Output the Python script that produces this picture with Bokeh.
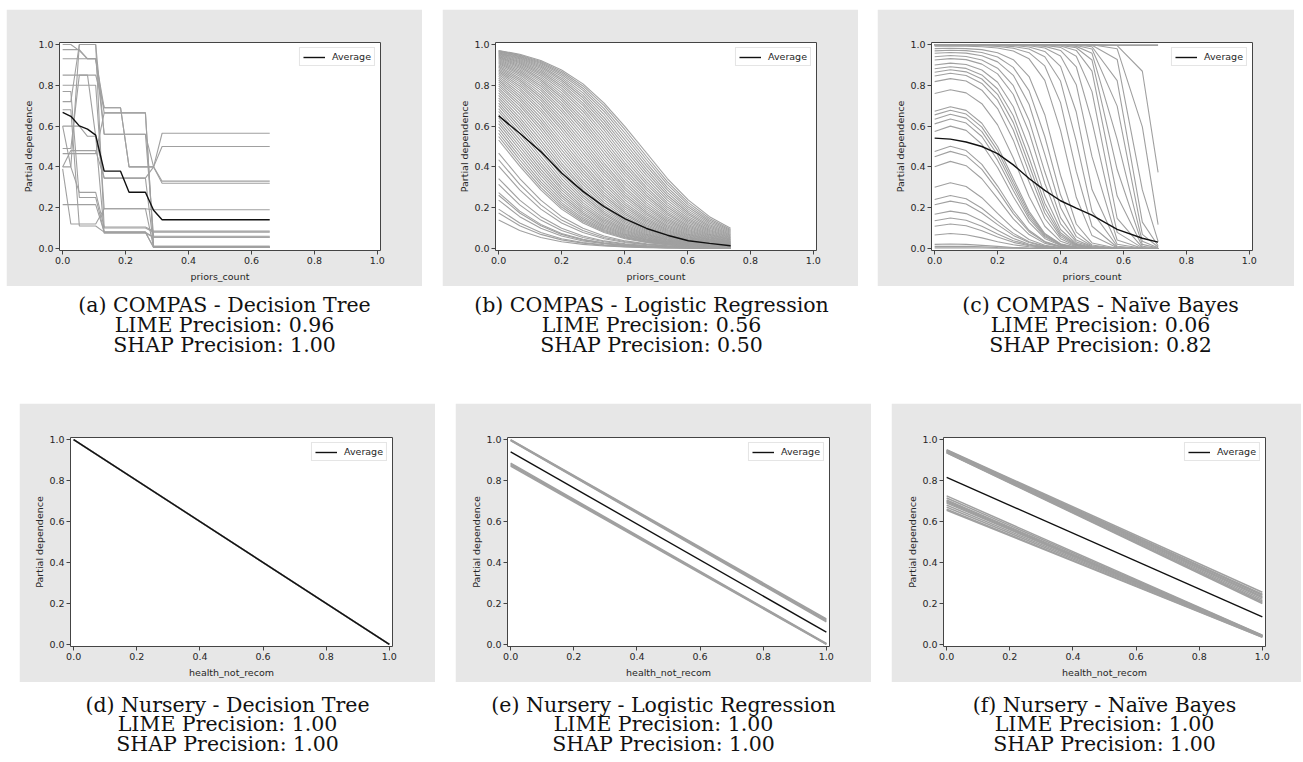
from bokeh.plotting import figure
from bokeh.models import Range1d, FixedTicker, PrintfTickFormatter, ColumnDataSource, Spacer
from bokeh.layouts import row, column
from bokeh.core.properties import value
from bokeh.embed import file_html
from bokeh.resources import INLINE

# ---------------- data ----------------
ticks = [0.0, 0.2, 0.4, 0.6, 0.8, 1.0]

# (a) COMPAS - Decision Tree
xa = [0, 0.026, 0.053, 0.079, 0.105, 0.132, 0.158, 0.184, 0.211, 0.237, 0.263, 0.289, 0.316, 0.658]
a_lines = [
    [1.0, 1.0, 0.97, 0.93, 0.93, 0.69, 0.69, 0.69, 0.40, 0.40, 0.40, 0.40, 0.565, 0.565],
    [0.975, 0.975, 0.975, 0.93, 0.93, 0.665, 0.665, 0.665, 0.665, 0.665, 0.665, 0.005, 0.005, 0.005],
    [0.93, 0.93, 0.93, 0.93, 0.93, 0.56, 0.56, 0.56, 0.56, 0.56, 0.56, 0.40, 0.50, 0.50],
    [0.85, 0.85, 0.85, 0.85, 0.55, 0.345, 0.345, 0.345, 0.345, 0.345, 0.345, 0.40, 0.33, 0.33],
    [0.80, 0.80, 0.80, 0.80, 0.80, 0.195, 0.195, 0.195, 0.195, 0.195, 0.195, 0.19, 0.19, 0.19],
    [0.72, 0.72, 1.0, 1.0, 1.0, 0.10, 0.10, 0.10, 0.10, 0.10, 0.10, 0.08, 0.08, 0.08],
    [0.60, 0.60, 0.60, 0.55, 0.55, 0.075, 0.075, 0.075, 0.075, 0.075, 0.075, 0.055, 0.055, 0.055],
    [0.49, 0.49, 0.85, 0.85, 0.85, 0.69, 0.69, 0.69, 0.40, 0.40, 0.40, 0.40, 0.32, 0.32],
    [0.465, 0.465, 0.465, 0.465, 0.465, 0.665, 0.665, 0.665, 0.665, 0.665, 0.665, 0.01, 0.01, 0.01],
    [0.40, 0.40, 1.0, 1.0, 1.0, 0.56, 0.56, 0.56, 0.56, 0.56, 0.56, 0.06, 0.06, 0.06],
    [0.40, 0.48, 0.48, 0.48, 0.48, 0.345, 0.345, 0.345, 0.345, 0.345, 0.345, 0.01, 0.01, 0.01],
    [0.60, 0.40, 0.275, 0.275, 0.275, 0.105, 0.105, 0.105, 0.105, 0.105, 0.105, 0.085, 0.085, 0.085],
    [0.215, 0.215, 0.215, 0.215, 0.215, 0.08, 0.08, 0.08, 0.08, 0.08, 0.08, 0.005, 0.005, 0.005],
    [0.39, 0.12, 0.12, 0.12, 0.12, 0.195, 0.195, 0.195, 0.195, 0.195, 0.195, 0.005, 0.005, 0.005],
    [0.77, 0.77, 0.25, 0.25, 0.25, 0.08, 0.08, 0.08, 0.08, 0.08, 0.08, 0.055, 0.055, 0.055],
    [0.68, 0.68, 0.11, 0.11, 0.11, 0.08, 0.08, 0.08, 0.08, 0.08, 0.08, 0.005, 0.005, 0.005],
]
a_avg = [0.667, 0.648, 0.601, 0.585, 0.556, 0.379, 0.379, 0.379, 0.276, 0.276, 0.276, 0.187, 0.141, 0.141]

# (b) COMPAS - Logistic Regression
xb = [0, 0.067, 0.134, 0.2, 0.268, 0.335, 0.402, 0.47, 0.536, 0.603, 0.67, 0.737]
b_lines = [
    [.971, .952, .922, .875, .807, .713, .596, .468, .343, .237, .156, .099],
    [.969, .949, .917, .868, .797, .700, .581, .451, .328, .225, .147, .093],
    [.967, .946, .912, .861, .786, .686, .565, .435, .314, .214, .139, .088],
    [.965, .942, .907, .853, .775, .672, .549, .419, .300, .203, .132, .083],
    [.963, .939, .901, .844, .763, .657, .532, .404, .287, .193, .125, .078],
    [.960, .935, .895, .835, .751, .642, .516, .388, .274, .183, .118, .073],
    [.958, .931, .889, .826, .739, .627, .500, .373, .261, .174, .111, .069],
    [.955, .927, .882, .817, .726, .612, .484, .358, .249, .165, .105, .065],
    [.952, .922, .875, .807, .713, .596, .468, .343, .237, .156, .099, .061],
    [.949, .917, .868, .797, .700, .581, .451, .328, .225, .147, .093, .057],
    [.946, .912, .861, .786, .686, .565, .435, .314, .214, .139, .088, .054],
    [.942, .907, .853, .775, .672, .549, .419, .300, .203, .132, .083, .051],
    [.939, .901, .844, .763, .657, .532, .404, .287, .193, .125, .078, .048],
    [.935, .895, .835, .751, .642, .516, .388, .274, .183, .118, .073, .045],
    [.931, .889, .826, .739, .627, .500, .373, .261, .174, .111, .069, .042],
    [.927, .882, .817, .726, .612, .484, .358, .249, .165, .105, .065, .040],
    [.922, .875, .807, .713, .596, .468, .343, .237, .156, .099, .061, .037],
    [.917, .868, .797, .700, .581, .451, .328, .225, .147, .093, .057, .035],
    [.912, .861, .786, .686, .565, .435, .314, .214, .139, .088, .054, .033],
    [.907, .853, .775, .672, .549, .419, .300, .203, .132, .083, .051, .031],
    [.901, .844, .763, .657, .532, .404, .287, .193, .125, .078, .048, .029],
    [.895, .835, .751, .642, .516, .388, .274, .183, .118, .073, .045, .027],
    [.889, .826, .739, .627, .500, .373, .261, .174, .111, .069, .042, .026],
    [.882, .817, .726, .612, .484, .358, .249, .165, .105, .065, .040, .024],
    [.875, .807, .713, .596, .468, .343, .237, .156, .099, .061, .037, .023],
    [.868, .797, .700, .581, .451, .328, .225, .147, .093, .057, .035, .021],
    [.861, .786, .686, .565, .435, .314, .214, .139, .088, .054, .033, .020],
    [.853, .775, .672, .549, .419, .300, .203, .132, .083, .051, .031, .019],
    [.844, .763, .657, .532, .404, .287, .193, .125, .078, .048, .029, .018],
    [.835, .751, .642, .516, .388, .274, .183, .118, .073, .045, .027, .016],
    [.826, .739, .627, .500, .373, .261, .174, .111, .069, .042, .026, .015],
    [.817, .726, .612, .484, .358, .249, .165, .105, .065, .040, .024, .014],
    [.807, .713, .596, .468, .343, .237, .156, .099, .061, .037, .023, .014],
    [.797, .700, .581, .451, .328, .225, .147, .093, .057, .035, .021, .013],
    [.786, .686, .565, .435, .314, .214, .139, .088, .054, .033, .020, .012],
    [.775, .672, .549, .419, .300, .203, .132, .083, .051, .031, .019, .011],
    [.763, .657, .532, .404, .287, .193, .125, .078, .048, .029, .018, .011],
    [.751, .642, .516, .388, .274, .183, .118, .073, .045, .027, .016, .010],
    [.739, .627, .500, .373, .261, .174, .111, .069, .042, .026, .015, .009],
    [.726, .612, .484, .358, .249, .165, .105, .065, .040, .024, .014, .009],
    [.713, .596, .468, .343, .237, .156, .099, .061, .037, .023, .014, .008],
    [.700, .581, .451, .328, .225, .147, .093, .057, .035, .021, .013, .008],
    [.686, .565, .435, .314, .214, .139, .088, .054, .033, .020, .012, .007],
    [.672, .549, .419, .300, .203, .132, .083, .051, .031, .019, .011, .007],
    [.657, .532, .404, .287, .193, .125, .078, .048, .029, .018, .011, .006],
    [.642, .516, .388, .274, .183, .118, .073, .045, .027, .016, .010, .006],
    [.627, .500, .373, .261, .174, .111, .069, .042, .026, .015, .009, .006],
    [.612, .484, .358, .249, .165, .105, .065, .040, .024, .014, .009, .005],
    [.596, .468, .343, .237, .156, .099, .061, .037, .023, .014, .008, .005],
    [.581, .451, .328, .225, .147, .093, .057, .035, .021, .013, .008, .005],
    [.565, .435, .314, .214, .139, .088, .054, .033, .020, .012, .007, .004],
    [.549, .419, .300, .203, .132, .083, .051, .031, .019, .011, .007, .004],
    [.532, .404, .287, .193, .125, .078, .048, .029, .018, .011, .006, .004],
    [.468, .343, .237, .156, .099, .061, .037, .023, .014, .008, .005, .003],
    [.435, .314, .214, .139, .088, .054, .033, .020, .012, .007, .004, .003],
    [.404, .287, .193, .125, .078, .048, .029, .018, .011, .006, .004, .002],
    [.343, .237, .156, .099, .061, .037, .023, .014, .008, .005, .003, .002],
    [.314, .214, .139, .088, .054, .033, .020, .012, .007, .004, .003, .002],
    [.274, .183, .118, .073, .045, .027, .016, .010, .006, .004, .002, .001],
    [.261, .174, .111, .069, .042, .026, .015, .009, .006, .003, .002, .001],
    [.237, .156, .099, .061, .037, .023, .014, .008, .005, .003, .002, .001],
    [.193, .125, .078, .048, .029, .018, .011, .006, .004, .002, .001, .001],
    [.174, .111, .069, .042, .026, .015, .009, .006, .003, .002, .001, .001],
    [.139, .088, .054, .033, .020, .012, .007, .004, .003, .002, .001, .001],
]
b_avg = [0.65, 0.565, 0.475, 0.37, 0.28, 0.205, 0.145, 0.098, 0.065, 0.038, 0.025, 0.013]

# (c) COMPAS - Naive Bayes
xc = [0, 0.05, 0.1, 0.15, 0.2, 0.25, 0.3, 0.35, 0.4, 0.45, 0.5, 0.58, 0.66, 0.71]
c_lines = [
    [0.999, 0.999, 0.999, 0.999, 0.999, 0.999, 0.999, 0.999, 0.999, 0.999, 0.999, 0.999, 0.999, 0.999],
    [0.995, 0.995, 0.995, 0.995, 0.995, 0.995, 0.995, 0.995, 0.995, 0.995, 0.995, 0.995, 0.995, 0.995],
    [1.0, 1.0, 1.0, 1.0, 1.0, 1.0, 1.0, 1.0, 1.0, 1.0, 1.0, 0.995, 0.869, 0.373],
    [1.0, 1.0, 1.0, 1.0, 1.0, 1.0, 1.0, 1.0, 1.0, 1.0, 0.999, 0.979, 0.596, 0.117],
    [1.0, 1.0, 1.0, 1.0, 1.0, 1.0, 1.0, 1.0, 1.0, 1.0, 0.996, 0.927, 0.287, 0.035],
    [1.0, 1.0, 1.0, 1.0, 1.0, 1.0, 1.0, 1.0, 1.0, 0.998, 0.989, 0.823, 0.129, 0.013],
    [1.0, 1.0, 1.0, 1.0, 1.0, 1.0, 1.0, 1.0, 0.999, 0.995, 0.978, 0.698, 0.069, 0.007],
    [1.0, 1.0, 1.0, 1.0, 1.0, 1.0, 1.0, 1.0, 0.998, 0.991, 0.957, 0.535, 0.035, 0.003],
    [1.0, 1.0, 1.0, 1.0, 1.0, 1.0, 1.0, 0.999, 0.996, 0.984, 0.924, 0.387, 0.020, 0.002],
    [1.0, 1.0, 1.0, 1.0, 1.0, 1.0, 0.999, 0.998, 0.993, 0.971, 0.870, 0.257, 0.011, 0.001],
    [1.0, 1.0, 1.0, 1.0, 1.0, 0.999, 0.998, 0.996, 0.986, 0.943, 0.769, 0.147, 0.005, 0.0],
    [1.0, 1.0, 1.0, 1.0, 0.999, 0.998, 0.997, 0.991, 0.971, 0.891, 0.622, 0.079, 0.003, 0.0],
    [0.999, 0.999, 0.999, 0.999, 0.998, 0.997, 0.994, 0.983, 0.944, 0.803, 0.450, 0.041, 0.001, 0.0],
    [0.999, 0.999, 0.999, 0.998, 0.997, 0.995, 0.988, 0.966, 0.893, 0.669, 0.289, 0.021, 0.001, 0.0],
    [0.998, 0.998, 0.998, 0.996, 0.995, 0.990, 0.978, 0.940, 0.821, 0.526, 0.182, 0.011, 0.0, 0.0],
    [0.996, 0.996, 0.996, 0.994, 0.991, 0.982, 0.960, 0.895, 0.715, 0.379, 0.109, 0.006, 0.0, 0.0],
    [0.992, 0.993, 0.992, 0.989, 0.983, 0.968, 0.930, 0.824, 0.579, 0.251, 0.063, 0.003, 0.0, 0.0],
    [0.980, 0.982, 0.980, 0.975, 0.960, 0.926, 0.843, 0.656, 0.359, 0.120, 0.027, 0.001, 0.0, 0.0],
    [0.969, 0.972, 0.970, 0.961, 0.939, 0.888, 0.774, 0.549, 0.263, 0.080, 0.017, 0.0, 0.0, 0.0],
    [0.957, 0.961, 0.958, 0.945, 0.915, 0.849, 0.707, 0.461, 0.201, 0.058, 0.012, 0.0, 0.0, 0.0],
    [0.940, 0.946, 0.941, 0.924, 0.884, 0.798, 0.629, 0.376, 0.151, 0.041, 0.009, 0.0, 0.0, 0.0],
    [0.924, 0.931, 0.926, 0.904, 0.856, 0.755, 0.570, 0.320, 0.121, 0.032, 0.007, 0.0, 0.0, 0.0],
    [0.900, 0.909, 0.902, 0.875, 0.815, 0.695, 0.495, 0.258, 0.093, 0.024, 0.005, 0.0, 0.0, 0.0],
    [0.881, 0.891, 0.883, 0.851, 0.782, 0.651, 0.445, 0.222, 0.077, 0.020, 0.004, 0.0, 0.0, 0.0],
    [0.864, 0.876, 0.866, 0.831, 0.756, 0.617, 0.409, 0.197, 0.067, 0.017, 0.003, 0.0, 0.0, 0.0],
    [0.846, 0.859, 0.848, 0.809, 0.727, 0.581, 0.373, 0.174, 0.058, 0.015, 0.003, 0.0, 0.0, 0.0],
    [0.818, 0.833, 0.821, 0.776, 0.686, 0.531, 0.327, 0.147, 0.048, 0.012, 0.002, 0.0, 0.0, 0.0],
    [0.760, 0.778, 0.763, 0.710, 0.606, 0.444, 0.255, 0.109, 0.035, 0.009, 0.001, 0.0, 0.0, 0.0],
    [0.673, 0.695, 0.677, 0.614, 0.500, 0.342, 0.182, 0.073, 0.023, 0.006, 0.001, 0.0, 0.0, 0.0],
    [0.655, 0.678, 0.659, 0.595, 0.480, 0.324, 0.171, 0.068, 0.021, 0.005, 0.001, 0.0, 0.0, 0.0],
    [0.634, 0.658, 0.639, 0.573, 0.458, 0.305, 0.158, 0.063, 0.019, 0.005, 0.001, 0.0, 0.0, 0.0],
    [0.611, 0.635, 0.615, 0.549, 0.433, 0.284, 0.146, 0.057, 0.017, 0.004, 0.001, 0.0, 0.0, 0.0],
    [0.574, 0.600, 0.579, 0.511, 0.397, 0.254, 0.128, 0.049, 0.015, 0.003, 0.001, 0.0, 0.0, 0.0],
    [0.475, 0.501, 0.480, 0.412, 0.306, 0.186, 0.089, 0.034, 0.010, 0.003, 0.001, 0.0, 0.0, 0.0],
    [0.450, 0.476, 0.455, 0.388, 0.285, 0.171, 0.082, 0.031, 0.009, 0.002, 0.0, 0.0, 0.0, 0.0],
    [0.401, 0.427, 0.406, 0.342, 0.246, 0.145, 0.068, 0.025, 0.008, 0.002, 0.0, 0.0, 0.0, 0.0],
    [0.300, 0.322, 0.304, 0.249, 0.172, 0.098, 0.044, 0.016, 0.005, 0.001, 0.0, 0.0, 0.0, 0.0],
    [0.240, 0.260, 0.244, 0.197, 0.134, 0.074, 0.033, 0.012, 0.003, 0.001, 0.0, 0.0, 0.0, 0.0],
    [0.214, 0.232, 0.218, 0.174, 0.117, 0.064, 0.029, 0.010, 0.003, 0.001, 0.0, 0.0, 0.0, 0.0],
    [0.168, 0.183, 0.171, 0.135, 0.089, 0.049, 0.021, 0.008, 0.002, 0.0, 0.0, 0.0, 0.0, 0.0],
    [0.136, 0.149, 0.138, 0.109, 0.071, 0.038, 0.017, 0.006, 0.002, 0.0, 0.0, 0.0, 0.0, 0.0],
    [0.109, 0.120, 0.111, 0.087, 0.056, 0.030, 0.013, 0.005, 0.001, 0.0, 0.0, 0.0, 0.0, 0.0],
    [0.066, 0.073, 0.067, 0.052, 0.033, 0.018, 0.008, 0.003, 0.001, 0.0, 0.0, 0.0, 0.0, 0.0],
    [0.020, 0.022, 0.020, 0.015, 0.010, 0.005, 0.002, 0.001, 0.0, 0.0, 0.0, 0.0, 0.0, 0.0],
    [0.010, 0.011, 0.010, 0.008, 0.005, 0.003, 0.001, 0.0, 0.0, 0.0, 0.0, 0.0, 0.0, 0.0],
    [0.003, 0.003, 0.003, 0.002, 0.001, 0.001, 0.0, 0.0, 0.0, 0.0, 0.0, 0.0, 0.0, 0.0],
]
c_avg = [0.541, 0.536, 0.522, 0.50, 0.465, 0.41, 0.343, 0.285, 0.234, 0.198, 0.164, 0.094, 0.05, 0.031]

# Nursery panels: binary feature health_not_recom
xn = [0, 1]
d_lines = [[1.0, 0.0], [1.0, 0.0], [1.0, 0.0]]
d_avg = [1.0, 0.0]

e_lines = [
    [1.0, 0.125], [0.998, 0.12], [0.996, 0.115], [0.995, 0.11],
    [0.885, 0.005], [0.88, 0.003], [0.875, 0.002], [0.87, 0.0],
]
e_avg = [0.94, 0.06]

f_lines = [
    [0.95, 0.255], [0.948, 0.245], [0.946, 0.24], [0.944, 0.233], [0.942, 0.227],
    [0.94, 0.22], [0.938, 0.213], [0.936, 0.206], [0.935, 0.20],
    [0.725, 0.045], [0.715, 0.044], [0.705, 0.043], [0.70, 0.042], [0.695, 0.041],
    [0.69, 0.04], [0.68, 0.039], [0.67, 0.038], [0.66, 0.036], [0.655, 0.035],
]
f_avg = [0.815, 0.135]

captions_top = [
    ["(a) COMPAS - Decision Tree", "LIME Precision: 0.96", "SHAP Precision: 1.00"],
    ["(b) COMPAS - Logistic Regression", "LIME Precision: 0.56", "SHAP Precision: 0.50"],
    ["(c) COMPAS - Naïve Bayes", "LIME Precision: 0.06", "SHAP Precision: 0.82"],
]
captions_bottom = [
    ["(d) Nursery - Decision Tree", "LIME Precision: 1.00", "SHAP Precision: 1.00"],
    ["(e) Nursery - Logistic Regression", "LIME Precision: 1.00", "SHAP Precision: 1.00"],
    ["(f) Nursery - Naïve Bayes", "LIME Precision: 1.00", "SHAP Precision: 1.00"],
]

# ---------------- style ----------------
PANEL_BG = "#e7e7e7"
GREY_LINE = "#a0a0a0"
FRAME = "#444444"
TXT = "#262626"
FS = "9.5px"


def panel(w, h, left, right, top, bottom, xlabel, xs, lines, avg, lw):
    p = figure(width=w, height=h, x_range=Range1d(-0.01, 1.01), y_range=Range1d(-0.01, 1.01),
               output_backend="svg", toolbar_location=None,
               min_border_left=left, min_border_right=right,
               min_border_top=top, min_border_bottom=bottom,
               border_fill_color=PANEL_BG, background_fill_color="white",
               outline_line_color=FRAME, outline_line_width=1)
    p.xgrid.visible = False
    p.ygrid.visible = False
    src = ColumnDataSource(dict(xs=[xs] * len(lines), ys=lines))
    p.multi_line("xs", "ys", source=src, line_color=GREY_LINE, line_width=lw)
    p.line(xs, avg, line_color="#111111", line_width=1.4, legend_label="Average")
    for ax in (p.xaxis[0], p.yaxis[0]):
        ax.ticker = FixedTicker(ticks=ticks)
        ax.formatter = PrintfTickFormatter(format="%.1f")
        ax.major_tick_in = 0
        ax.major_tick_out = 4
        ax.minor_tick_in = 0
        ax.minor_tick_out = 0
        ax.axis_line_color = None
        ax.major_tick_line_color = FRAME
        ax.major_label_text_font = "DejaVu Sans"
        ax.major_label_text_font_size = FS
        ax.major_label_text_color = TXT
        ax.axis_label_text_font = "DejaVu Sans"
        ax.axis_label_text_font_size = FS
        ax.axis_label_text_font_style = "normal"
        ax.axis_label_text_color = TXT
        ax.major_label_standoff = 2
    p.xaxis[0].axis_label_standoff = 4
    p.yaxis[0].axis_label_standoff = 1
    p.xaxis[0].axis_label = xlabel
    p.yaxis[0].axis_label = "Partial dependence"
    lg = p.legend[0]
    lg.location = "top_right"
    lg.margin = 5
    lg.padding = 3
    lg.spacing = 0
    lg.glyph_width = 22
    lg.glyph_height = 10
    lg.label_height = 10
    lg.label_standoff = 7
    lg.label_text_font = "DejaVu Sans"
    lg.label_text_font_size = FS
    lg.label_text_color = TXT
    lg.border_line_color = "#cccccc"
    lg.border_line_width = 1
    lg.background_fill_alpha = 1.0
    return p


def caption(w, h, centers, baselines, texts):
    c = figure(width=w, height=h, x_range=Range1d(0, w), y_range=Range1d(h, 0),
               output_backend="svg", toolbar_location=None, min_border=0,
               x_axis_location=None, y_axis_location=None, outline_line_color=None,
               border_fill_color="white", background_fill_color="white")
    c.grid.visible = False
    xs, ys, ts = [], [], []
    for cx, lines in zip(centers, texts):
        for by, t in zip(baselines, lines):
            xs.append(cx)
            ys.append(by)
            ts.append(t)
    c.text(x=xs, y=ys, text=ts, text_font=value("DejaVu Serif"), text_font_size="20.5px",
           text_align="center", text_baseline="alphabetic", text_color="#111111")
    return c


pa = panel(416, 277, 53, 42, 33, 36, "priors_count", xa, a_lines, a_avg, 1.1)
pb = panel(416, 277, 53, 42, 33, 36, "priors_count", xb, b_lines, b_avg, 1.1)
pc = panel(417, 277, 54, 42, 33, 36, "priors_count", xc, c_lines, c_avg, 1.1)
pd = panel(416, 279, 51, 43, 34, 36, "health_not_recom", xn, d_lines, d_avg, 1.5)
pe = panel(416, 279, 52, 42, 34, 36, "health_not_recom", xn, e_lines, e_avg, 1.5)
pf = panel(410, 279, 52, 36, 34, 36, "health_not_recom", xn, f_lines, f_avg, 1.5)

cap1 = caption(1301, 117, [224, 651, 1100], [18.5, 38.5, 58.5], captions_top)
cap2 = caption(1301, 78, [227, 663, 1104], [22, 41.5, 61], captions_bottom)

top_row = row(Spacer(width=6, height=277), pa, Spacer(width=20, height=277), pb,
              Spacer(width=19, height=277), pc)
bottom_row = row(Spacer(width=19, height=279), pd, Spacer(width=20, height=279), pe,
                 Spacer(width=20, height=279), pf)
layout = column(Spacer(width=1, height=9), top_row, cap1, bottom_row, cap2)

open("out.html", "w").write(file_html(layout, INLINE))
